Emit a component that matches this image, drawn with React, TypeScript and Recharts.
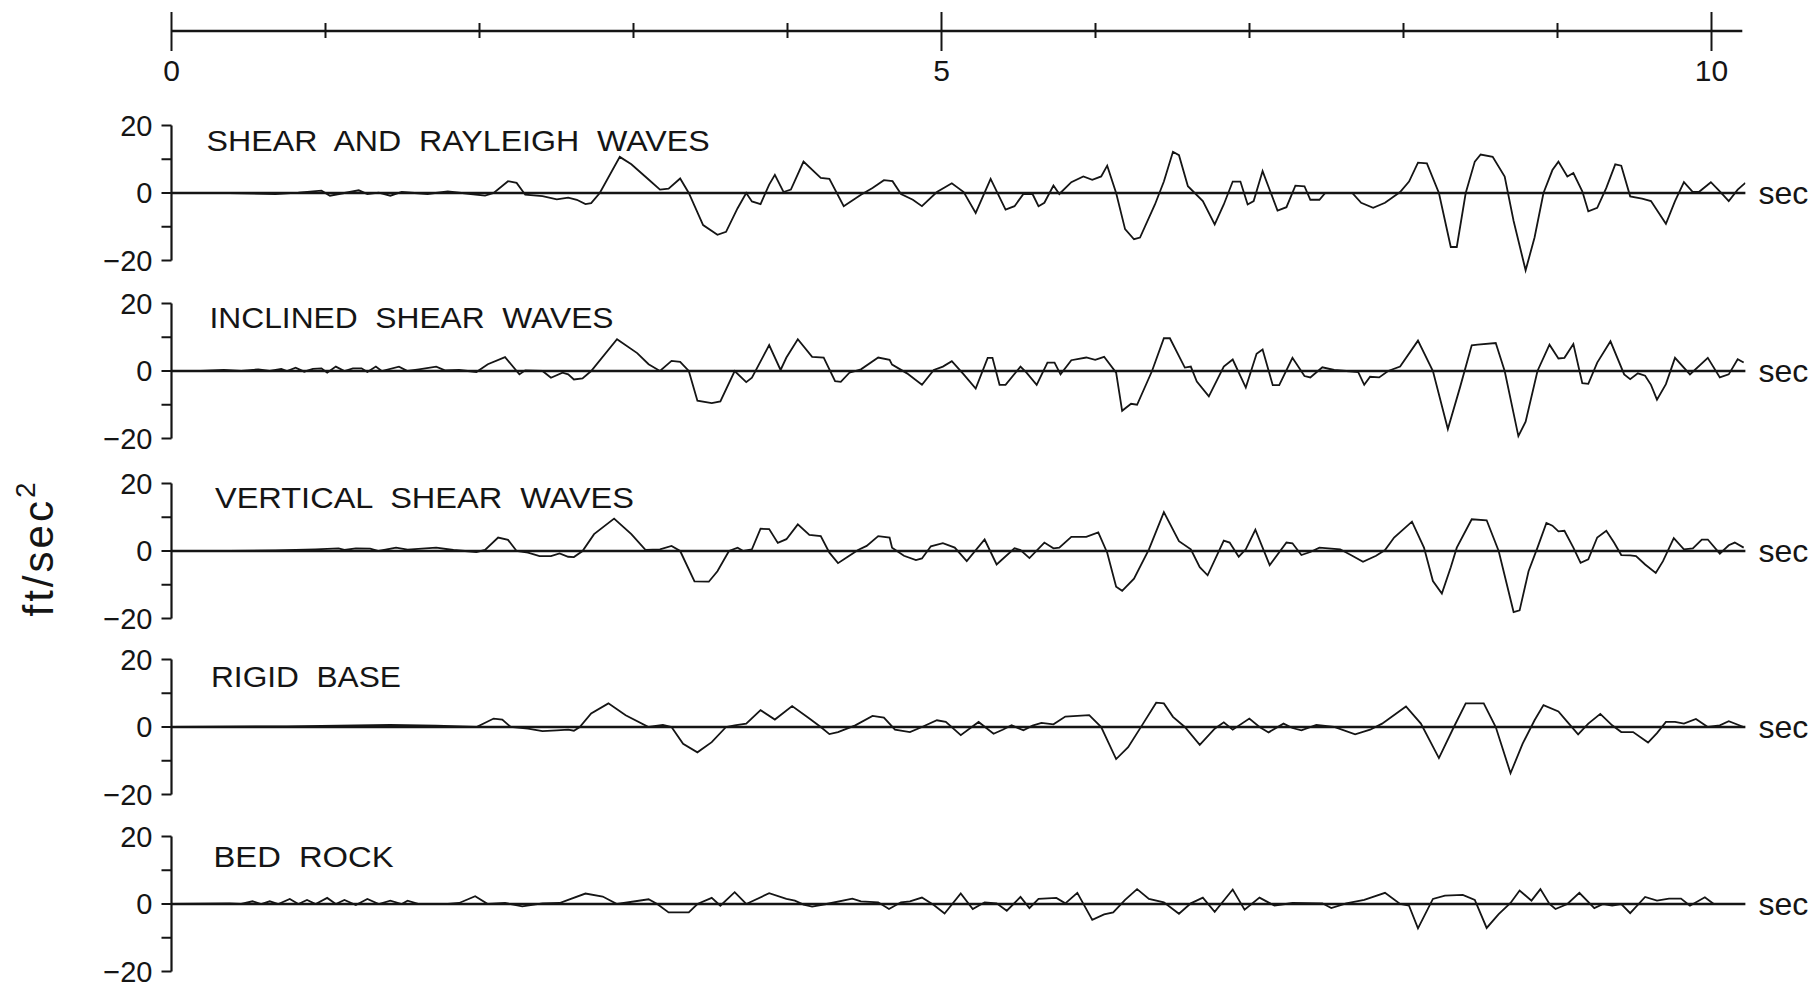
import React from 'react';
import { LineChart, Line, XAxis, YAxis, ReferenceLine } from 'recharts';

type Pt = [number, number];

// ---------- data (time in s, acceleration in ft/sec^2) ----------
const SHEAR_RAYLEIGH: Pt[] = [
  [0, 0], [0.377, 0], [0.675, -0.3], [0.824, 0.1], [0.974, 0.7], [1.029, -0.8], [1.123, 0], [1.216, 0.8], [1.272, -0.3], [1.346, 0.1],
  [1.421, -0.8], [1.495, 0.3], [1.663, -0.3], [1.794, 0.5], [1.943, -0.3], [2.036, -0.8], [2.092, 0], [2.185, 3.5], [2.241, 3], [2.297, -0.5],
  [2.409, -0.9], [2.502, -1.9], [2.576, -1.4], [2.632, -2], [2.688, -3.3], [2.725, -3], [2.781, 0], [2.911, 10.7], [2.986, 8.5], [3.098, 4],
  [3.172, 1], [3.228, 1.3], [3.303, 4.3], [3.359, 0], [3.452, -9.5], [3.545, -12.4], [3.601, -11.5], [3.676, -4.5], [3.732, 0], [3.769, -2.5],
  [3.825, -3.3], [3.881, 2.5], [3.918, 5.4], [3.974, 0.3], [4.022, 1], [4.104, 9.3], [4.216, 4.5], [4.272, 4.2], [4.365, -3.9], [4.477, -0.5],
  [4.552, 1.5], [4.626, 3.8], [4.682, 3.5], [4.737, -0.3], [4.814, -2], [4.873, -3.9], [4.97, 0.3], [5.067, 2.9], [5.144, 0.3], [5.222, -5.9],
  [5.319, 4.2], [5.416, -4.9], [5.474, -3.9], [5.532, -0.3], [5.591, -0.3], [5.63, -3.9], [5.668, -2.9], [5.727, 2.2], [5.765, -0.3], [5.843, 3.2],
  [5.921, 4.9], [5.979, 3.9], [6.037, 4.9], [6.076, 8.1], [6.134, 0], [6.192, -10.7], [6.25, -13.7], [6.289, -13.2], [6.386, -3.4], [6.444, 3.4],
  [6.503, 12.2], [6.542, 11.2], [6.6, 2], [6.697, -2.4], [6.774, -9.3], [6.833, -3.4], [6.891, 3.4], [6.941, 3.4], [6.988, -3.4], [7.027, -2.4],
  [7.085, 6.5], [7.182, -5.2], [7.24, -4.2], [7.298, 2.2], [7.357, 2], [7.395, -2], [7.454, -2], [7.492, 0], [7.667, 0], [7.725, -2.9],
  [7.803, -4.4], [7.88, -2.9], [7.978, 0.3], [8.036, 3.4], [8.094, 9], [8.152, 8.8], [8.23, 0], [8.307, -16], [8.346, -16], [8.404, 0],
  [8.463, 9.3], [8.501, 11.4], [8.579, 10.7], [8.657, 4.9], [8.715, -8.3], [8.793, -22.9], [8.851, -13.2], [8.909, 0], [8.967, 6.8], [9.006, 9.3],
  [9.064, 4.9], [9.103, 5.9], [9.161, 0.5], [9.2, -5.4], [9.258, -4.4], [9.317, 1.5], [9.375, 8.5], [9.414, 8.1], [9.472, -1], [9.549, -1.7],
  [9.607, -2.4], [9.704, -9.1], [9.763, -2.4], [9.821, 3.2], [9.879, 0.3], [9.918, 0.3], [9.996, 3.2], [10.054, 0.5], [10.112, -2.4], [10.17, 1],
  [10.22, 3],
];

const INCLINED_SHEAR: Pt[] = [
  [0, 0], [0.191, 0], [0.34, 0.3], [0.452, 0], [0.564, 0.5], [0.638, 0], [0.713, 0.6], [0.75, 0], [0.806, 1], [0.862, -0.2],
  [0.918, 0.6], [0.974, 0.8], [1.011, -0.5], [1.067, 1.3], [1.123, 0], [1.178, 0.8], [1.234, 0.8], [1.272, -0.3], [1.327, 1.3], [1.365, 0],
  [1.477, 1.3], [1.533, 0], [1.607, 0.5], [1.719, 1.3], [1.775, 0.2], [1.868, 0.3], [1.98, -0.3], [2.054, 2], [2.166, 4.1], [2.259, -1],
  [2.297, 0.2], [2.409, 0], [2.464, -2], [2.539, -0.5], [2.576, -1], [2.613, -2.5], [2.669, -2.2], [2.725, 0], [2.893, 9.4], [3.024, 5.3],
  [3.098, 2], [3.172, 0], [3.247, 3], [3.303, 2.7], [3.359, 0], [3.415, -8.8], [3.508, -9.5], [3.564, -9], [3.657, 0], [3.732, -3.3],
  [3.769, -2], [3.881, 7.7], [3.955, 0.3], [3.993, 4], [4.067, 9.4], [4.16, 4.2], [4.235, 4], [4.309, -3], [4.346, -3.2], [4.402, -0.5],
  [4.477, 0.5], [4.589, 4], [4.663, 3.3], [4.679, 1.9], [4.776, -0.7], [4.873, -4.1], [4.95, 0.3], [5.009, 1.3], [5.067, 2.9], [5.144, -1],
  [5.222, -5.2], [5.3, 3.9], [5.331, 3.9], [5.377, -4.1], [5.416, -4.1], [5.513, 1.3], [5.552, -0.5], [5.618, -4.1], [5.688, 2.5], [5.734, 2.5],
  [5.773, -1], [5.843, 3.2], [5.94, 4], [5.998, 3.3], [6.056, 4.2], [6.134, -0.5], [6.173, -11.8], [6.231, -9.7], [6.27, -10], [6.367, 0],
  [6.444, 9.7], [6.483, 9.7], [6.58, 1], [6.619, 1.3], [6.658, -3.1], [6.736, -7.5], [6.833, 1.3], [6.891, 3.4], [6.976, -4.9], [7.046, 5.1],
  [7.085, 6.4], [7.151, -4.2], [7.193, -4.2], [7.279, 3.9], [7.357, -1.5], [7.395, -1.9], [7.473, 1.1], [7.55, 0.3], [7.628, 0], [7.706, -0.3],
  [7.745, -4.1], [7.783, -1.7], [7.842, -1.9], [7.9, 0], [7.978, 1.3], [8.094, 9], [8.191, 0], [8.288, -17.2], [8.366, -5], [8.443, 7.6],
  [8.482, 7.8], [8.599, 8.3], [8.657, 0], [8.746, -19.3], [8.793, -15], [8.87, 0], [8.948, 7.8], [9.006, 3.7], [9.045, 3.9], [9.103, 8],
  [9.161, -3.6], [9.2, -3.8], [9.258, 2.5], [9.344, 8.8], [9.433, -1], [9.472, -2.4], [9.522, -0.7], [9.569, -1.4], [9.607, -4.1], [9.646, -8.5],
  [9.704, -3.9], [9.763, 3.9], [9.86, -1], [9.976, 3.9], [10.054, -1.9], [10.112, -1], [10.17, 3.5], [10.209, 2.5],
];

const VERTICAL_SHEAR: Pt[] = [
  [0, 0], [0.377, 0], [0.675, 0.2], [0.936, 0.5], [1.085, 0.8], [1.123, 0.3], [1.197, 0.8], [1.29, 0.7], [1.346, 0], [1.458, 1],
  [1.533, 0.4], [1.719, 1], [1.831, 0.3], [1.98, -0.3], [2.036, 0.3], [2.121, 4], [2.185, 3.3], [2.241, 0], [2.315, -0.5], [2.39, -1.5],
  [2.464, -1.5], [2.52, -0.7], [2.576, -1.7], [2.613, -1.8], [2.669, 0], [2.744, 5], [2.874, 9.6], [2.986, 5], [3.079, 0.3], [3.172, 0.5],
  [3.247, 1.5], [3.303, 0], [3.396, -9], [3.489, -9.1], [3.545, -6], [3.62, 0], [3.676, 1], [3.713, 0], [3.769, 0.5], [3.825, 6.6],
  [3.881, 6.5], [3.937, 2.4], [3.993, 3.5], [4.067, 7.9], [4.142, 4.8], [4.216, 4.4], [4.272, -0.5], [4.328, -3.6], [4.384, -1.9], [4.458, 0.3],
  [4.514, 1.5], [4.589, 4.4], [4.663, 4], [4.679, 1], [4.756, -1.4], [4.834, -2.7], [4.873, -2.2], [4.931, 1.4], [5.009, 2.3], [5.086, 1],
  [5.164, -3], [5.28, 3.4], [5.358, -4], [5.474, 0.8], [5.513, 0.3], [5.571, -2.1], [5.668, 2.5], [5.727, 0.8], [5.765, 1], [5.843, 4.2],
  [5.94, 4.2], [6.018, 5.5], [6.076, -0.5], [6.134, -10.6], [6.173, -11.8], [6.25, -8.2], [6.347, 0.5], [6.444, 11.5], [6.542, 2.9], [6.619, 0.5],
  [6.677, -4.8], [6.728, -7.2], [6.833, 3.1], [6.871, 2.5], [6.93, -1.7], [6.976, 0.5], [7.038, 6.3], [7.131, -4.2], [7.24, 2.5], [7.279, 2.3],
  [7.337, -1.2], [7.395, -0.3], [7.454, 1], [7.589, 0.5], [7.667, -1.4], [7.737, -3.2], [7.822, -1.4], [7.88, 0.3], [7.939, 4], [8.055, 8.7],
  [8.133, 1], [8.191, -8.9], [8.249, -12.6], [8.307, -4.8], [8.346, 1], [8.443, 9.4], [8.54, 9.1], [8.618, 0], [8.715, -18.1], [8.754, -17.6],
  [8.812, -6], [8.87, 1], [8.928, 8.3], [8.967, 7.5], [9.006, 5.8], [9.045, 6], [9.103, 1], [9.15, -3.5], [9.2, -2.5], [9.258, 4],
  [9.317, 6], [9.367, 2.5], [9.414, -1.2], [9.472, -1.3], [9.51, -1.5], [9.569, -4], [9.638, -6.5], [9.685, -3], [9.755, 3.8], [9.821, 0.5],
  [9.879, 0.8], [9.937, 3.4], [9.976, 3.4], [10.054, -0.8], [10.112, 1.7], [10.151, 2.5], [10.209, 1],
];

const RIGID_BASE: Pt[] = [
  [0, 0], [0.75, 0.2], [1.421, 0.6], [1.719, 0.4], [1.98, 0], [2.092, 2.5], [2.148, 2.2], [2.203, 0], [2.315, -0.5], [2.409, -1.2],
  [2.502, -1], [2.576, -0.8], [2.613, -1.1], [2.651, 0], [2.725, 4], [2.837, 7], [2.949, 3.5], [3.098, 0], [3.191, 0.6], [3.247, 0],
  [3.322, -5], [3.415, -7.5], [3.508, -4.5], [3.601, 0], [3.657, 0.5], [3.732, 1], [3.825, 5], [3.918, 2.2], [4.03, 6.2], [4.142, 2.5],
  [4.216, 0], [4.272, -2.1], [4.328, -1.5], [4.44, 0.5], [4.552, 3.3], [4.626, 2.8], [4.698, -0.8], [4.795, -1.5], [4.873, 0], [4.97, 2],
  [5.028, 1.5], [5.125, -2.4], [5.241, 1.5], [5.338, -2], [5.397, -0.8], [5.455, 0.5], [5.532, -1], [5.591, 0.4], [5.649, 1.2], [5.727, 0.8],
  [5.804, 3.1], [5.959, 3.5], [6.037, 0], [6.134, -9.5], [6.212, -6], [6.309, 1], [6.394, 7.2], [6.444, 7], [6.503, 3], [6.58, 0],
  [6.677, -5.3], [6.774, -0.5], [6.833, 1.4], [6.891, -0.8], [6.999, 2.5], [7.065, 0], [7.124, -1.6], [7.221, 1], [7.279, -0.3], [7.337, -1],
  [7.434, 0.6], [7.55, 0], [7.686, -2.2], [7.783, -0.8], [7.861, 1], [8.016, 6.1], [8.113, 1], [8.23, -9.2], [8.327, 0], [8.404, 7],
  [8.521, 7], [8.599, 0], [8.695, -13.7], [8.773, -5], [8.851, 2], [8.909, 6.5], [9.006, 4.6], [9.064, 1.5], [9.134, -2.2], [9.2, 1],
  [9.278, 3.9], [9.355, 0.5], [9.414, -1.5], [9.491, -1.5], [9.588, -4.6], [9.646, -1.8], [9.704, 1.5], [9.763, 1.5], [9.821, 1], [9.899, 2.4],
  [9.976, 0], [10.054, 0.5], [10.112, 1.7], [10.209, 0],
];

const BED_ROCK: Pt[] = [
  [0, 0], [0.377, 0.2], [0.452, 0], [0.526, 0.8], [0.582, 0], [0.638, 0.8], [0.694, 0], [0.768, 1.5], [0.824, 0], [0.88, 1.2],
  [0.936, 0], [1.011, 1.8], [1.067, 0], [1.123, 1.2], [1.197, -0.3], [1.272, 1.5], [1.346, 0], [1.421, 1], [1.495, 0], [1.533, 1],
  [1.607, 0], [1.794, 0], [1.868, 0.3], [1.972, 2.3], [2.054, 0], [2.166, 0.3], [2.278, -0.7], [2.409, 0.2], [2.52, 0.3], [2.576, 1.2],
  [2.688, 3.1], [2.8, 2.2], [2.893, 0], [3.098, 1.4], [3.154, 0], [3.228, -2.5], [3.359, -2.5], [3.415, 0], [3.508, 1.8], [3.564, -0.5],
  [3.657, 3.5], [3.732, 0], [3.881, 3.2], [3.993, 1.5], [4.048, 1], [4.104, -0.2], [4.16, -0.8], [4.253, 0], [4.421, 1.6], [4.477, 0.8],
  [4.589, 0.5], [4.659, -1.5], [4.737, 0.5], [4.795, 0.8], [4.873, 1.9], [4.95, -0.3], [5.02, -2.8], [5.125, 3.1], [5.203, -1.5], [5.28, 0.5],
  [5.358, 0.2], [5.424, -2], [5.513, 2.1], [5.571, -1.2], [5.63, 1.5], [5.746, 1.8], [5.804, 0.2], [5.882, 3.3], [5.979, -4.7], [6.056, -3.1],
  [6.115, -2.5], [6.192, 1.2], [6.27, 4.4], [6.347, 1.5], [6.444, 0.5], [6.542, -2.9], [6.619, 0.2], [6.697, 1.9], [6.774, -2.3], [6.891, 4.3],
  [6.968, -1.7], [7.065, 1.9], [7.162, -0.5], [7.279, 0.3], [7.473, 0.2], [7.531, -1.2], [7.628, 0.2], [7.745, 1.2], [7.88, 3.3], [7.978, 0],
  [8.036, -0.5], [8.094, -7.2], [8.191, 1.5], [8.269, 2.5], [8.385, 2.7], [8.463, 1.2], [8.54, -7.1], [8.618, -3], [8.695, 0.3], [8.754, 4],
  [8.831, 1], [8.889, 4.4], [8.948, 0], [8.987, -1.5], [9.064, 0], [9.142, 3.3], [9.239, -1.2], [9.297, 0], [9.355, -0.5], [9.414, 0],
  [9.472, -2.7], [9.569, 2.1], [9.646, 1], [9.724, 1.6], [9.802, 1.6], [9.86, -0.5], [9.957, 2], [10.015, 0], [10.209, 0],
];

const PANEL_TITLES = [
  'SHEAR AND RAYLEIGH WAVES',
  'INCLINED SHEAR WAVES',
  'VERTICAL SHEAR WAVES',
  'RIGID BASE',
  'BED ROCK',
];
const PANEL_SERIES = [SHEAR_RAYLEIGH, INCLINED_SHEAR, VERTICAL_SHEAR, RIGID_BASE, BED_ROCK];

const TIME_TICKS = [0, 1, 2, 3, 4, 5, 6, 7, 8, 9, 10];
const TIME_LABELED = [0, 5, 10];
const ACC_TICKS = [-20, -10, 0, 10, 20];
const ACC_LABELED = [-20, 0, 20];
const TIME_UNIT = 'sec';
const ACC_UNIT = 'ft/sec';
const ACC_UNIT_POWER = '2';

// ---------- layout / style ----------
const W = 1817;
const H = 988;
const INK = '#151515';
const FONT = '"Liberation Sans", Arial, Helvetica, sans-serif';
const PLOT_LEFT = 171.5;
const PX_PER_SEC = 154;
const T_MAX = 10.22;
const TOP_T_MAX = 10.2;
const TOP_AXIS_Y = 31;
const PANEL_ZERO_Y = [192.5, 371, 550.5, 727.3, 903.8];
const PX_PER_UNIT = 3.375;
const Y_HALF = 24;
const PANEL_H = 180;
const TITLE_POS = [
  { x: 206.6, y: 151, w: 503 },
  { x: 209.5, y: 328, w: 404 },
  { x: 215, y: 507.7, w: 419 },
  { x: 211, y: 686.7, w: 190 },
  { x: 213.5, y: 866.5, w: 180 },
];

const toRows = (pts: Pt[]) => pts.map(([t, v]) => ({ t, v }));

const accFormat = (v: number) => {
  if (!ACC_LABELED.includes(v)) return '';
  return v < 0 ? `\u2212${-v}` : `${v}`;
};

const TopTick = (props: any) => {
  const { x, y, payload } = props;
  const major = TIME_LABELED.includes(payload.value);
  const up = major ? 19 : 8;
  const down = major ? 20 : 7;
  return (
    <g>
      <line x1={x} x2={x} y1={y - up} y2={y + down} stroke={INK} strokeWidth={2} />
      {major && (
        <text x={x} y={y + 50} textAnchor="middle" fontSize={30} fontFamily={FONT} fill={INK}>
          {payload.value}
        </text>
      )}
    </g>
  );
};

function TopAxis() {
  const h = 110;
  const plotW = TOP_T_MAX * PX_PER_SEC;
  return (
    <div style={{ position: 'absolute', left: 0, top: 0, width: W, height: h }}>
      <LineChart
        width={W}
        height={h}
        data={TIME_TICKS.map((t) => ({ t, v: 0 }))}
        margin={{ top: 0, bottom: 0, left: PLOT_LEFT, right: W - PLOT_LEFT - plotW }}
      >
        <XAxis
          type="number"
          dataKey="t"
          domain={[0, TOP_T_MAX]}
          allowDataOverflow
          ticks={TIME_TICKS}
          interval={0}
          height={h - TOP_AXIS_Y}
          tickSize={0}
          tickMargin={0}
          tickLine={false}
          axisLine={{ stroke: INK, strokeWidth: 2.6 }}
          tick={(p: any) => <TopTick {...p} />}
        />
        <YAxis hide domain={[0, 1]} />
      </LineChart>
    </div>
  );
}

function Panel({ pts, zeroY }: { pts: Pt[]; zeroY: number }) {
  const plotH = 2 * Y_HALF * PX_PER_UNIT;
  const m = (PANEL_H - plotH) / 2;
  const plotW = T_MAX * PX_PER_SEC;
  return (
    <div style={{ position: 'absolute', left: 0, top: zeroY - PANEL_H / 2, width: W, height: PANEL_H }}>
      <LineChart
        width={W}
        height={PANEL_H}
        data={toRows(pts)}
        margin={{ top: m, bottom: m, left: 0, right: W - PLOT_LEFT - plotW }}
      >
        <XAxis type="number" dataKey="t" domain={[0, T_MAX]} allowDataOverflow hide />
        <YAxis
          type="number"
          domain={[-Y_HALF, Y_HALF]}
          allowDataOverflow
          ticks={ACC_TICKS}
          interval={0}
          width={PLOT_LEFT}
          axisLine={false}
          tickSize={10}
          tickMargin={9}
          tickLine={{ stroke: INK, strokeWidth: 2 }}
          tick={{ fill: INK, fontSize: 29, fontFamily: FONT }}
          tickFormatter={accFormat}
        />
        <ReferenceLine
          segment={[{ x: 0, y: -20 }, { x: 0, y: 20 }]}
          stroke={INK}
          strokeWidth={2.2}
        />
        <ReferenceLine
          y={0}
          stroke={INK}
          strokeWidth={2.6}
          label={{ value: TIME_UNIT, position: 'right', offset: 13, fill: INK, fontSize: 32, fontFamily: FONT }}
        />
        <Line
          dataKey="v"
          type="linear"
          stroke={INK}
          strokeWidth={1.8}
          dot={false}
          isAnimationActive={false}
        />
      </LineChart>
    </div>
  );
}

export default function App() {
  return (
    <div
      style={{
        position: 'absolute',
        left: 0,
        top: 0,
        width: W,
        height: H,
        overflow: 'hidden',
        background: '#fff',
        fontFamily: FONT,
      }}
    >
      <TopAxis />
      {PANEL_SERIES.map((pts, i) => (
        <Panel key={i} pts={pts} zeroY={PANEL_ZERO_Y[i]} />
      ))}
      <svg width={W} height={H} style={{ position: 'absolute', left: 0, top: 0, pointerEvents: 'none' }}>
        {PANEL_TITLES.map((title, i) => (
          <text
            key={title}
            x={TITLE_POS[i].x}
            y={TITLE_POS[i].y}
            fontSize={29}
            fontFamily={FONT}
            fill={INK}
            wordSpacing={8}
            textLength={TITLE_POS[i].w}
            lengthAdjust="spacingAndGlyphs"
          >
            {title}
          </text>
        ))}
        <text
          transform="translate(53,548) rotate(-90)"
          textAnchor="middle"
          fontSize={42}
          fontFamily={FONT}
          fill={INK}
          letterSpacing={3}
        >
          {ACC_UNIT}
          <tspan fontSize={28} dy={-18}>
            {ACC_UNIT_POWER}
          </tspan>
        </text>
      </svg>
    </div>
  );
}
